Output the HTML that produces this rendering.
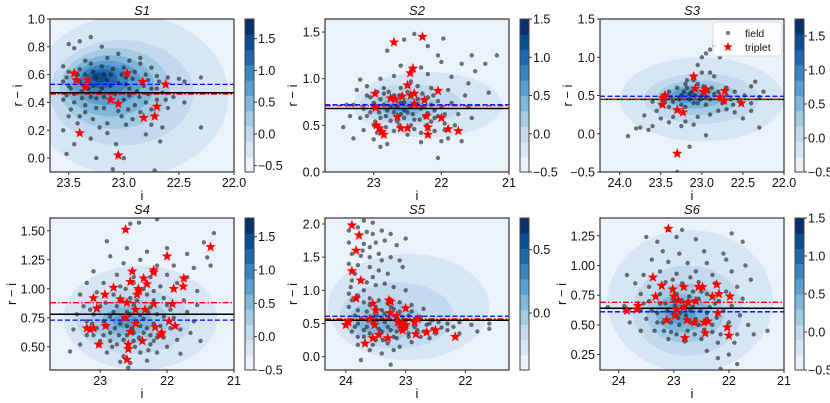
<!DOCTYPE html>
<html><head><meta charset="utf-8"><style>
body{margin:0;background:#fff}
svg{display:block;font-family:"Liberation Sans","DejaVu Sans",sans-serif}
</style></head><body>
<svg id="fig" width="830" height="403" viewBox="0 0 830 403"></svg>
<script>
// ---------- data ----------
const panelNames=["S1","S2","S3","S4","S5","S6"];
const s1Lines=[0.47,0.46,0.53];
const s2Lines=[0.68,0.71,0.72];
const s3Lines=[0.45,0.45,0.49];
const s4Lines=[0.78,0.88,0.73];
const s5Lines=[0.55,0.57,0.61];
const s6Lines=[0.64,0.69,0.61];
const s1Stars=[[23.45,0.61],[23.43,0.56],[23.33,0.56],[23.35,0.51],[22.97,0.61],[22.83,0.55],[22.62,0.53],[23.12,0.42],[23.05,0.39],[22.7,0.37],[22.82,0.29],[22.72,0.3],[23.4,0.18],[23.05,0.02]];
const s2Stars=[[22.7,1.39],[22.28,1.45],[22.42,1.11],[22.46,1.06],[22.5,0.93],[22.4,0.84],[22.45,0.82],[22.58,0.81],[22.68,0.78],[22.75,0.79],[22.05,0.87],[22.98,0.84],[22.25,0.77],[22.0,0.58],[22.22,0.6],[22.65,0.59],[22.96,0.5],[22.92,0.47],[22.88,0.43],[22.85,0.4],[22.6,0.47],[22.5,0.47],[22.2,0.48],[22.2,0.4],[21.9,0.46],[21.75,0.44],[22.4,0.73],[22.97,0.69]];
const s3Stars=[[23.47,0.47],[23.45,0.5],[23.48,0.38],[23.3,0.31],[23.23,0.28],[23.1,0.75],[23.08,0.59],[22.98,0.55],[22.95,0.58],[22.72,0.56],[22.73,0.43],[22.52,0.4],[22.78,0.48],[23.3,-0.26]];
const s4Stars=[[22.62,1.51],[21.35,1.36],[22,1.28],[22.2,1.16],[22.2,1.14],[22.52,1.15],[22.55,1.06],[22.35,1.09],[22.3,1.04],[22.42,0.98],[22.45,0.95],[22.43,1.0],[21.75,1.09],[21.76,1.02],[21.9,1.0],[22.8,1.01],[22.93,0.95],[23.1,0.92],[22.7,0.91],[22.6,0.88],[22.2,0.87],[21.92,0.87],[23.05,0.83],[22.47,0.82],[22.33,0.82],[22.62,0.75],[22.47,0.7],[22.92,0.68],[21.97,0.72],[21.88,0.68],[22.18,0.67],[22.08,0.62],[22.1,0.6],[22.55,0.63],[23.15,0.65],[23.2,0.66],[23.1,0.66],[23.02,0.52],[22.37,0.55],[22.58,0.52],[22.58,0.48],[22.6,0.39]];
const s5Stars=[[23.9,1.98],[23.78,1.83],[23.83,1.6],[23.9,1.29],[23.75,1.15],[23.83,0.88],[23.55,0.8],[23.5,0.7],[23.28,0.85],[23.25,0.83],[23.0,0.73],[23.26,0.66],[23.15,0.62],[23.6,0.57],[23.52,0.48],[24,0.48],[23.96,0.52],[23.13,0.52],[23.05,0.5],[23,0.48],[23.02,0.45],[23.07,0.43],[23.05,0.4],[22.85,0.52],[22.83,0.34],[22.65,0.37],[22.5,0.4],[22.17,0.3],[23.55,0.28],[23.3,0.28],[23.45,0.33],[23.68,0.2],[22.8,0.57]];
const s6Stars=[[23.1,1.31],[23.38,0.9],[23.22,0.83],[23.02,0.8],[22.82,0.82],[22.55,0.82],[22.48,0.82],[22.22,0.84],[22.18,0.76],[23.33,0.74],[23.0,0.74],[22.3,0.74],[21.98,0.74],[22.92,0.71],[22.74,0.69],[22.6,0.7],[23.65,0.66],[23.67,0.63],[23.85,0.62],[22.82,0.65],[22.95,0.63],[22.2,0.6],[23.13,0.54],[22.98,0.58],[22.76,0.54],[22.63,0.52],[22.45,0.52],[22.38,0.53],[22.03,0.48],[22.0,0.41],[22.43,0.43],[22.8,0.39]];
const s1Field=[[23.5,0.82],[23.45,0.79],[23.4,0.84],[23.3,0.87],[23.2,0.8],[23.05,0.75],[22.85,0.72],[22.85,0.68],[23.55,0.66],[23.5,0.62],[23.4,0.64],[23.3,0.68],[23.2,0.66],[23.1,0.64],[23.0,0.65],[22.9,0.62],[22.8,0.6],[22.7,0.59],[22.6,0.58],[22.5,0.57],[22.45,0.55],[22.3,0.58],[22.45,0.4],[22.3,0.22],[23.55,0.55],[23.48,0.5],[23.38,0.48],[23.28,0.52],[23.2,0.5],[23.15,0.56],[23.05,0.54],[22.95,0.5],[22.88,0.48],[22.75,0.5],[22.65,0.47],[22.55,0.44],[23.55,0.42],[23.45,0.4],[23.35,0.38],[23.25,0.43],[23.18,0.36],[23.0,0.42],[22.9,0.38],[22.8,0.4],[22.7,0.42],[22.6,0.36],[23.5,0.3],[23.4,0.3],[23.28,0.28],[23.15,0.25],[23.02,0.3],[22.92,0.28],[22.75,0.24],[22.65,0.22],[23.55,0.2],[23.45,0.1],[23.3,0.14],[23.15,0.18],[23.07,0.1],[22.8,0.17],[22.67,0.12],[23.52,0.03],[23.25,0.0],[23.0,0.0],[23.1,-0.08],[22.72,-0.09],[23.35,0.6],[23.25,0.58],[23.12,0.6],[22.98,0.58],[23.45,0.46],[23.3,0.44],[23.08,0.46],[22.86,0.44],[23.4,0.55],[23.22,0.47],[22.96,0.35],[23.35,0.33],[23.22,0.22],[22.85,0.33],
[23.52,0.58],[23.42,0.6],[23.28,0.62],[23.18,0.6],[23.02,0.6],[22.92,0.57],[22.78,0.56],[22.68,0.55],[23.5,0.52],[23.32,0.5],[23.12,0.52],[22.98,0.53],[22.82,0.52],[22.7,0.5],[23.52,0.45],[23.38,0.43],[23.18,0.44],[22.95,0.45],[22.78,0.46],[22.62,0.42],[23.48,0.35],[23.25,0.36],[23.05,0.34],[22.75,0.35],[23.42,0.25],[22.98,0.24],[23.35,0.7],[23.15,0.72],[22.95,0.7],[22.75,0.65]];
const s2Field=[[22.4,1.48],[22.55,1.42],[22.2,1.35],[21.97,1.43],[22.8,1.3],[22.05,1.25],[21.55,1.25],[21.18,1.25],[22.0,1.18],[21.7,1.16],[21.35,1.16],[22.6,1.14],[22.3,1.12],[21.5,1.08],[22.9,1.0],[23.2,0.99],[22.7,1.03],[22.45,0.97],[22.2,1.05],[21.85,1.02],[21.6,0.95],[21.3,0.85],[23.1,0.92],[22.85,0.9],[22.6,0.9],[22.35,0.92],[22.15,0.9],[21.9,0.88],[21.65,0.82],[23.25,0.88],[23.05,0.8],[22.9,0.78],[22.7,0.82],[22.55,0.75],[22.35,0.78],[22.2,0.8],[22.05,0.76],[21.85,0.74],[21.6,0.7],[23.3,0.72],[23.15,0.68],[22.95,0.7],[22.8,0.66],[22.65,0.7],[22.5,0.64],[22.3,0.68],[22.1,0.66],[21.95,0.62],[21.75,0.62],[21.55,0.58],[23.35,0.6],[23.1,0.6],[22.9,0.58],[22.75,0.55],[22.55,0.58],[22.4,0.56],[22.15,0.54],[21.95,0.52],[21.8,0.5],[23.45,0.48],[23.15,0.45],[22.95,0.42],[22.7,0.44],[22.5,0.4],[22.3,0.42],[22.1,0.44],[21.9,0.36],[23.3,0.36],[23.0,0.35],[22.8,0.3],[22.3,0.32],[22.0,0.33],[21.7,0.33],[22.9,0.27],[22.05,0.15],[23.4,0.72],[22.6,0.62],[22.45,0.5],[22.85,0.84],[22.25,0.6],
[23.0,0.74],[22.85,0.72],[22.75,0.7],[22.6,0.74],[22.45,0.7],[22.35,0.72],[22.25,0.7],[22.15,0.72],[22.0,0.7],[23.05,0.64],[22.92,0.64],[22.7,0.64],[22.55,0.66],[22.42,0.62],[22.2,0.63],[22.05,0.6],[23.2,0.58],[22.98,0.54],[22.82,0.6],[22.65,0.54],[22.32,0.56],[22.1,0.58],[23.1,0.82],[22.95,0.86],[22.78,0.86],[22.62,0.82],[22.5,0.86],[22.28,0.84],[22.12,0.82],[23.0,0.5],[22.82,0.48],[22.62,0.5],[22.4,0.46],[22.22,0.5],[21.95,0.45]];
const s3Field=[[23.9,-0.03],[23.8,0.07],[23.75,0.08],[23.65,0.05],[23.6,0.1],[23.7,0.24],[23.55,0.3],[23.5,0.2],[23.4,0.15],[23.35,0.22],[23.25,0.1],[23.2,0.16],[23.1,0.12],[23.15,-0.17],[22.95,-0.02],[22.9,0.25],[22.8,0.3],[22.7,0.32],[22.6,0.28],[22.5,0.2],[22.4,0.3],[22.3,0.08],[22.4,0.4],[22.3,0.48],[22.25,0.55],[22.4,0.62],[22.35,0.68],[22.6,0.55],[22.55,0.45],[22.7,0.6],[22.8,0.55],[22.85,0.75],[22.9,0.8],[23.0,0.8],[23.05,0.9],[23.0,1.0],[22.95,1.05],[22.9,1.1],[22.85,1.15],[22.78,1.0],[23.1,0.7],[23.2,0.65],[23.3,0.6],[23.4,0.55],[23.25,0.5],[23.15,0.45],[23.05,0.4],[22.95,0.38],[23.35,0.42],[23.5,0.38],[23.6,0.42],[23.2,0.35],[23.0,0.5],[22.9,0.45],[22.75,0.4],[22.65,0.45],[23.45,0.5],[23.12,0.55],[22.98,0.62],[23.28,0.3],[23.05,0.22],[22.48,0.5],[22.62,0.38],[23.4,0.35],[22.85,0.52],[23.3,-0.5],
[23.22,0.55],[23.18,0.6],[23.08,0.5],[23.02,0.45],[22.92,0.55],[23.28,0.45],[23.38,0.48],[23.15,0.52],[22.88,0.6],[22.78,0.45],[23.1,0.4],[23.25,0.38],[22.95,0.48],[22.7,0.5],[23.45,0.42],[23.05,0.65],[23.18,0.7]];
const s4Field=[[22.15,1.6],[22.42,1.57],[22.55,1.56],[21.3,1.48],[21.45,1.4],[22.9,1.41],[22.6,1.35],[22.3,1.32],[22.0,1.35],[21.7,1.3],[21.4,1.27],[22.85,1.28],[22.65,1.22],[22.4,1.25],[22.15,1.2],[21.9,1.2],[21.6,1.18],[21.35,1.2],[23.1,1.15],[22.75,1.12],[22.5,1.1],[22.25,1.1],[22.0,1.12],[21.7,1.1],[23.2,1.05],[22.95,1.05],[22.7,1.02],[22.35,1.0],[22.1,1.02],[21.85,1.05],[21.55,0.98],[23.3,0.95],[23.05,0.97],[22.8,0.95],[22.55,0.92],[22.3,0.95],[22.05,0.92],[21.75,0.9],[21.55,0.86],[23.25,0.85],[23.0,0.85],[22.75,0.85],[22.5,0.86],[22.25,0.84],[21.95,0.82],[21.7,0.8],[23.35,0.78],[23.1,0.78],[22.85,0.76],[22.6,0.8],[22.4,0.77],[22.15,0.78],[21.9,0.75],[21.6,0.72],[23.2,0.72],[22.95,0.72],[22.7,0.7],[22.45,0.72],[22.2,0.7],[21.95,0.66],[21.65,0.62],[23.4,0.65],[23.1,0.6],[22.85,0.62],[22.6,0.6],[22.35,0.62],[22.15,0.58],[21.85,0.56],[21.5,0.55],[23.3,0.52],[23.0,0.55],[22.75,0.52],[22.5,0.55],[22.25,0.52],[22.0,0.5],[23.45,0.46],[22.9,0.45],[22.65,0.42],[22.4,0.45],[22.15,0.45],[21.8,0.44],[22.55,0.36],[22.7,0.37],[22.3,0.38],[22.58,0.32],
[22.8,0.8],[22.65,0.75],[22.55,0.78],[22.35,0.74],[22.28,0.8],[22.05,0.76],[22.9,0.68],[22.78,0.66],[22.6,0.68],[22.52,0.66],[22.4,0.68],[22.3,0.66],[22.1,0.68],[23.05,0.66],[22.95,0.6],[22.72,0.6],[22.5,0.62],[22.25,0.6],[22.05,0.58],[22.85,0.55],[22.65,0.56],[22.42,0.58],[22.2,0.55],[23.15,0.82],[22.92,0.88],[22.68,0.9],[22.45,0.9],[22.2,0.9],[22.0,0.86],[23.12,0.7],[22.82,0.5],[22.48,0.5],[22.28,0.47],[23.2,0.6],[21.8,0.65],[22.62,1.0],[22.5,1.05],[22.2,0.98]];
const s5Field=[[23.7,2.05],[23.55,2.02],[23.95,1.9],[23.8,1.95],[23.65,1.88],[23.55,1.85],[23.4,1.9],[23.25,1.85],[23.0,1.78],[23.95,1.72],[23.7,1.7],[23.5,1.72],[23.35,1.75],[23.15,1.68],[23.9,1.55],[23.75,1.52],[23.6,1.5],[23.45,1.55],[23.25,1.5],[23.1,1.45],[23.95,1.4],[23.8,1.38],[23.6,1.35],[23.45,1.3],[23.3,1.25],[23.05,1.35],[23.9,1.15],[23.65,1.12],[23.5,1.08],[23.35,1.1],[23.2,1.05],[23.0,1.0],[23.95,0.95],[23.8,0.92],[23.6,0.88],[23.45,0.85],[23.3,0.8],[23.1,0.82],[22.9,0.78],[22.7,0.72],[23.95,0.75],[23.8,0.7],[23.65,0.68],[23.5,0.62],[23.35,0.65],[23.15,0.6],[22.95,0.62],[22.75,0.6],[22.55,0.55],[22.3,0.5],[22.1,0.52],[21.9,0.48],[21.6,0.42],[23.95,0.55],[23.8,0.5],[23.65,0.45],[23.45,0.42],[23.3,0.45],[23.15,0.38],[22.95,0.35],[22.7,0.38],[22.5,0.35],[22.3,0.4],[22.1,0.35],[21.8,0.38],[21.6,0.5],[23.9,0.38],[23.7,0.3],[23.5,0.25],[23.3,0.2],[23.1,0.15],[22.9,0.22],[22.6,0.28],[23.8,0.18],[23.6,0.1],[23.4,0.05],[23.2,0.1],[23.75,-0.05],[23.25,-0.12],[23.85,0.62],[23.6,0.78],[23.4,0.58],[23.2,0.72],[23.0,0.55],[22.85,0.45],[23.75,0.58],[23.55,0.52],[23.35,0.52],[23.1,0.48],[22.65,0.48],[22.4,0.44],[23.7,0.4],[23.2,0.3],
[23.9,0.85],[23.7,0.82],[23.5,0.75],[23.4,0.7],[23.25,0.75],[23.1,0.68],[22.9,0.68],[23.85,0.45],[23.62,0.55],[23.48,0.55],[23.28,0.58],[23.05,0.6],[22.85,0.55],[22.6,0.5],[22.45,0.52],[22.2,0.45],[23.8,0.3],[23.6,0.35],[23.4,0.38],[23.25,0.4],[23.0,0.42],[22.8,0.4],[22.55,0.42],[23.55,0.18],[23.38,0.25],[23.15,0.28],[22.95,0.3],[22.75,0.3],[23.92,1.05],[23.7,1.0],[23.85,1.25],[23.55,1.2],[23.72,1.6],[23.6,1.65],[23.4,1.45]];
const s6Field=[[23.1,1.3],[22.85,1.3],[22.95,1.24],[23.5,1.24],[23.3,1.2],[22.6,1.22],[21.95,1.27],[21.75,1.2],[23.2,1.12],[22.9,1.1],[22.45,1.12],[22.1,1.1],[23.4,1.05],[23.1,1.03],[22.75,1.02],[22.4,1.02],[22.05,1.05],[21.7,1.0],[23.85,0.92],[23.55,0.92],[23.25,0.95],[22.95,0.93],[22.6,0.95],[22.3,0.92],[21.95,0.95],[21.6,0.88],[23.7,0.85],[23.45,0.82],[23.15,0.86],[22.85,0.85],[22.55,0.86],[22.25,0.85],[21.85,0.82],[23.6,0.76],[23.25,0.76],[22.95,0.76],[22.65,0.78],[22.4,0.76],[22.05,0.78],[21.75,0.72],[23.45,0.7],[23.15,0.68],[22.85,0.7],[22.55,0.72],[22.25,0.68],[21.95,0.66],[24.2,0.65],[23.9,0.66],[23.6,0.62],[23.3,0.6],[23.0,0.6],[22.7,0.62],[22.4,0.6],[22.1,0.62],[21.8,0.58],[23.5,0.55],[23.2,0.52],[22.9,0.5],[22.6,0.55],[22.3,0.5],[22.0,0.52],[21.65,0.5],[23.35,0.45],[23.05,0.44],[22.75,0.45],[22.45,0.46],[22.15,0.42],[21.85,0.42],[21.55,0.42],[21.3,0.45],[23.1,0.38],[22.8,0.36],[22.5,0.38],[22.2,0.35],[21.9,0.35],[22.4,0.28],[22.2,0.22],[22.0,0.25],[21.85,0.17],[22.15,0.13],[23.6,0.45],[23.8,0.52],
[23.12,0.62],[22.98,0.66],[22.88,0.6],[22.78,0.58],[22.65,0.65],[22.52,0.62],[22.35,0.65],[23.25,0.68],[23.05,0.52],[22.92,0.56],[22.7,0.52],[22.55,0.5],[22.4,0.55],[22.22,0.56],[23.3,0.52],[23.18,0.45],[22.95,0.42],[22.62,0.42],[22.3,0.44],[23.0,0.7],[22.72,0.74],[22.5,0.78],[22.18,0.7],[23.4,0.62],[23.55,0.68],[23.02,0.88],[22.7,0.9]];
// density contours: [cx, cy, rx, ry, level]
const s1Kde=[[22.95,0.45,0.9,0.58,1],[23.02,0.47,0.65,0.38,2],[23.08,0.5,0.5,0.29,3],[23.12,0.52,0.4,0.22,4],[23.15,0.54,0.31,0.16,5],[23.18,0.56,0.22,0.11,6],[23.2,0.57,0.14,0.07,7],[23.22,0.58,0.07,0.035,8]];
const s2Kde=[[22.2,0.72,1.1,0.35,1],[22.45,0.72,0.75,0.22,2],[22.55,0.7,0.5,0.15,3],[22.58,0.7,0.32,0.1,4],[22.6,0.7,0.16,0.05,5]];
const s3Kde=[[23.0,0.45,1.0,0.55,1],[23.0,0.46,0.7,0.33,2],[23.05,0.47,0.5,0.23,3],[23.1,0.48,0.35,0.15,4],[23.15,0.5,0.22,0.1,5],[23.17,0.5,0.11,0.05,6]];
const s4Kde=[[22.4,0.75,1.15,0.45,1],[22.5,0.72,0.85,0.28,2],[22.55,0.72,0.58,0.19,3],[22.6,0.72,0.38,0.12,4],[22.62,0.72,0.2,0.06,5]];
const s5Kde=[[22.95,0.75,1.35,0.8,1],[23.15,0.62,0.95,0.5,2],[23.35,0.55,0.62,0.3,3],[23.45,0.5,0.35,0.15,4]];
const s6Kde=[[22.7,0.7,1.5,0.6,1],[22.75,0.62,1.0,0.38,2],[22.8,0.6,0.7,0.25,3],[22.85,0.6,0.48,0.16,4],[22.88,0.6,0.28,0.09,5]];
const cbTicks=[[-0.5,0,0.5,1,1.5],[-0.5,0,0.5,1,1.5],[-0.5,0,0.5,1,1.5],[-0.5,0,0.5,1,1.5],[0,0.5],[-0.5,0,0.5,1,1.5]];
const cbRange=[[-0.6,1.81],[-0.5,1.5],[-0.5,1.75],[-0.5,1.78],[-0.45,0.75],[-0.5,1.5]];
const xTicks=[[23.5,23.0,22.5,22.0],[23,22,21],[24.0,23.5,23.0,22.5,22.0],[23,22,21],[24,23,22],[24,23,22,21]];
const xTickLabels=[["23.5","23.0","22.5","22.0"],["23","22","21"],["24.0","23.5","23.0","22.5","22.0"],["23","22","21"],["24","23","22"],["24","23","22","21"]];
const yTicks=[[0,0.2,0.4,0.6,0.8,1.0],[0,0.5,1.0,1.5],[-0.5,0,0.5,1.0,1.5],[0.5,0.75,1.0,1.25,1.5],[0,0.5,1.0,1.5,2.0],[0.25,0.5,0.75,1.0,1.25]];
const yTickLabels=[["0.0","0.2","0.4","0.6","0.8","1.0"],["0.0","0.5","1.0","1.5"],["−0.5","0.0","0.5","1.0","1.5"],["0.50","0.75","1.00","1.25","1.50"],["0.0","0.5","1.0","1.5","2.0"],["0.25","0.50","0.75","1.00","1.25"]];
const xDomains=[[23.67,22.0],[23.72,21.0],[24.24,22.0],[23.75,21.0],[24.35,21.27],[24.34,21.0]];
const yDomains=[[-0.1,1.0],[0,1.64],[-0.5,1.5],[0.3,1.61],[-0.2,2.09],[0.12,1.4]];

const allLines=[s1Lines,s2Lines,s3Lines,s4Lines,s5Lines,s6Lines];
const allStars=[s1Stars,s2Stars,s3Stars,s4Stars,s5Stars,s6Stars];
const allField=[s1Field,s2Field,s3Field,s4Field,s5Field,s6Field];
const allKde=[s1Kde,s2Kde,s3Kde,s4Kde,s5Kde,s6Kde];

// ---------- layout ----------
const colX=[[50,234],[325,509],[600,784]];
const rowY=[[19,172],[218,370]];
const cbX=[245,520,795];
const blues=['#eaf2fb','#d7e6f5','#c2d9ee','#a3cbe3','#7fb6da','#5a9fcf','#3a84c0','#1f68ad','#0b4d93','#08306b'];
const NS="http://www.w3.org/2000/svg";
const svg=document.getElementById('fig');
function mk(tag,attrs,parent){const e=document.createElementNS(NS,tag);for(const k in attrs)e.setAttribute(k,attrs[k]);(parent||svg).appendChild(e);return e;}
function starPts(cx,cy,R){const r=R*0.42;let p=[];for(let i=0;i<10;i++){const a=-Math.PI/2+i*Math.PI/5;const rr=i%2?r:R;p.push((cx+rr*Math.cos(a)).toFixed(1)+","+(cy+rr*Math.sin(a)).toFixed(1));}return p.join(" ");}

for(let p=0;p<6;p++){
  const c=p%3,r=Math.floor(p/3);
  const [x0,x1]=colX[c],[y0,y1]=rowY[r];
  const xd=xDomains[p],yd=yDomains[p];
  const sx=v=>x0+(v-xd[0])/(xd[1]-xd[0])*(x1-x0);
  const sy=v=>y1-(v-yd[0])/(yd[1]-yd[0])*(y1-y0);
  const g=mk('g',{});
  
  
  const cid='clip'+p;
  const cp=mk('clipPath',{id:cid},g);mk('rect',{x:x0,y:y0,width:x1-x0,height:y1-y0},cp);
  const bg=mk('rect',{x:x0,y:y0,width:x1-x0,height:y1-y0,fill:blues[0]},g);
  
  
  const kg=mk('g',{'clip-path':'url(#'+cid+')'},g);
  
  
  allKde[p].forEach(k=>{
    const e=mk('ellipse',{cx:sx(k[0]),cy:sy(k[1]),rx:Math.abs(sx(k[0]+k[2])-sx(k[0])),ry:Math.abs(sy(k[1]+k[3])-sy(k[1])),fill:blues[k[4]]},kg);
    
    
  });
  const fg=mk('g',{'clip-path':'url(#'+cid+')'},g);
  
  
  allField[p].forEach(d=>{
    const e=mk('circle',{cx:sx(d[0]),cy:sy(d[1]),r:2.2,fill:'#1a1a1a','fill-opacity':0.6},fg);
    
    
  });
  const L=allLines[p];
  const lb=mk('line',{x1:x0,x2:x1,y1:sy(L[0]),y2:sy(L[0]),stroke:'#000','stroke-width':1.5},g);
  
  
  const lr=mk('line',{x1:x0,x2:x1,y1:sy(L[1]),y2:sy(L[1]),stroke:'#f00','stroke-width':1.3,'stroke-dasharray':'6,2,1.5,2'},g);
  
  
  const lbl=mk('line',{x1:x0,x2:x1,y1:sy(L[2]),y2:sy(L[2]),stroke:'#00f','stroke-width':1.3,'stroke-dasharray':'5,2.5'},g);
  
  
  const sg=mk('g',{'clip-path':'url(#'+cid+')'},g);
  
  
  allStars[p].forEach(d=>{
    const e=mk('polygon',{points:starPts(sx(d[0]),sy(d[1]),5.5),fill:'#f00'},sg);
    
    
  });
  const fr=mk('rect',{x:x0,y:y0,width:x1-x0,height:y1-y0,fill:'none',stroke:'#333','stroke-width':1.2},g);
  
  
  xTicks[p].forEach((t,i)=>{
    mk('line',{x1:sx(t),x2:sx(t),y1:y1,y2:y1+3,stroke:'#333'},g);
    const tx=mk('text',{x:sx(t),y:y1+15,'font-size':12.5,'text-anchor':'middle',fill:'#111'},g);
    tx.textContent=xTickLabels[p][i];
    
    
  });
  yTicks[p].forEach((t,i)=>{
    mk('line',{x1:x0-3,x2:x0,y1:sy(t),y2:sy(t),stroke:'#333'},g);
    const tx=mk('text',{x:x0-5,y:sy(t)+4.5,'font-size':12.5,'text-anchor':'end',fill:'#111'},g);
    tx.textContent=yTickLabels[p][i];
    
    
  });
  const ti=mk('text',{x:(x0+x1)/2,y:y0-4,'font-size':13,'text-anchor':'middle','font-style':'italic',fill:'#111'},g);
  ti.textContent=panelNames[p];
  
  
  const xl=mk('text',{x:(x0+x1)/2,y:y1+28,'font-size':13,'text-anchor':'middle',fill:'#111'},g);
  xl.textContent='i';
  
  
  const ylx=x0-(p===3||p===5?34:28);
  const yl=mk('text',{x:ylx,y:(y0+y1)/2,'font-size':13,'text-anchor':'middle',fill:'#111',transform:'rotate(-90 '+ylx+' '+(y0+y1)/2+')'},g);
  yl.textContent='r − i';
  
  
  // colorbar
  const cx0=cbX[c],cw=9;
  const cb=mk('g',{},g);
  
  
  const n=10,h=(y1-y0)/n;
  for(let k=0;k<n;k++) mk('rect',{x:cx0,y:y1-(k+1)*h,width:cw,height:h+0.5,fill:blues[k]},cb);
  mk('rect',{x:cx0,y:y0,width:cw,height:y1-y0,fill:'none',stroke:'#444','stroke-width':1},cb);
  const cr=cbRange[p];
  const cy=v=>y1-(v-cr[0])/(cr[1]-cr[0])*(y1-y0);
  cbTicks[p].forEach(t=>{
    mk('line',{x1:cx0+cw,x2:cx0+cw+3,y1:cy(t),y2:cy(t),stroke:'#333'},cb);
    const tx=mk('text',{x:cx0+cw+4,y:cy(t)+4.5,'font-size':12.5,fill:'#111'},cb);
    tx.textContent=t<0?'−'+Math.abs(t).toFixed(1):t.toFixed(1);
    
    
  });
}
// legend in S3
const lg=mk('g',{});


mk('rect',{x:713,y:22,width:69,height:34,rx:3,fill:'#fff','fill-opacity':0.85,stroke:'#ddd'},lg);
mk('circle',{cx:728,cy:33,r:2,fill:'#222','fill-opacity':0.6},lg);
const t1=mk('text',{x:745,y:37,'font-size':10.5,fill:'#111'},lg);t1.textContent='field';


mk('polygon',{points:starPts(728,47,5),fill:'#f00'},lg);
const t2=mk('text',{x:745,y:51,'font-size':10.5,fill:'#111'},lg);t2.textContent='triplet';


</script>
</body></html>
